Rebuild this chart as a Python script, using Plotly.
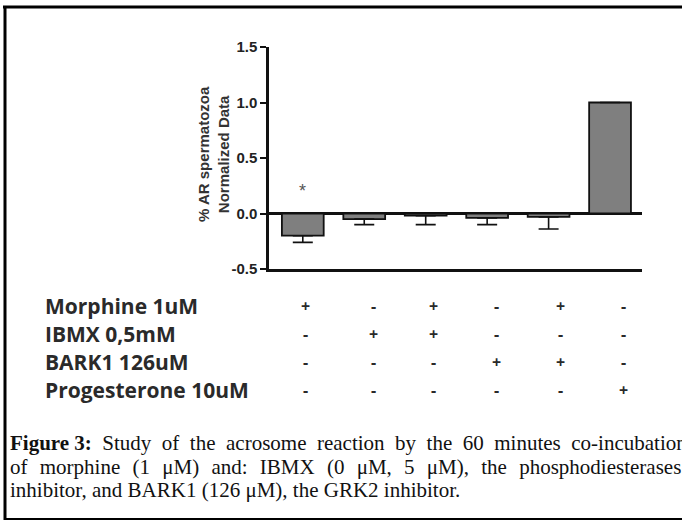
import plotly.graph_objects as go

# ---------------- data ----------------
conditions = ["C1", "C2", "C3", "C4", "C5", "C6"]
values = [-0.20, -0.05, -0.02, -0.04, -0.03, 1.00]
err_down = [0.06, 0.05, 0.08, 0.06, 0.11, 0.0]
err_up = [0, 0, 0, 0, 0, 0]

row_labels = ["Morphine 1uM", "IBMX 0,5mM", "BARK1 126uM", "Progesterone 10uM"]
row_signs = [
    ["+", "-", "+", "-", "+", "-"],
    ["-", "+", "+", "-", "-", "-"],
    ["-", "-", "-", "+", "+", "-"],
    ["-", "-", "-", "-", "-", "+"],
]
y_ticks = [-0.5, 0.0, 0.5, 1.0, 1.5]
y_tick_labels = ["-0.5", "0.0", "0.5", "1.0", "1.5"]
sig_marker = "*"
sig_index = 0
sig_y = 0.2

NB = "\u00a0"
caption_lines = [
    "<b>Figure" + NB + "3:</b>" + (" Study of the acrosome reaction by the 60 minutes co-incubation").replace(" ", NB * 2),
    "of morphine (1 μM) and: IBMX (0 μM, 5 μM), the phosphodiesterases".replace(" ", NB * 2 + "\u200a"),
    "inhibitor, and BARK1 (126 μM), the GRK2 inhibitor.",
]

# ---------------- layout geometry (pixels) ----------------
W, H = 682, 522
L, R, T, B = 269, 642, 47, 269  # plot area in pixels


def px(x):
    return (x - L) / (R - L)


def py(y):
    return (B - y) / (B - T)


fig = go.Figure()
fig.add_trace(go.Bar(
    x=list(range(len(conditions))),
    y=values,
    width=0.68,
    marker=dict(color="#7f7f7f", line=dict(color="#111111", width=1.8)),
    error_y=dict(type="data", symmetric=False, array=err_up, arrayminus=err_down,
                 color="#111111", thickness=1.6, width=10),
    showlegend=False,
    hoverinfo="skip",
))

annotations = []
# y-axis title (two lines)
annotations.append(dict(
    x=px(213), y=py(154), xref="paper", yref="paper",
    xanchor="center", yanchor="middle",
    text="% AR spermatozoa<br>Normalized Data", textangle=-90,
    showarrow=False, font=dict(family="Arial", size=15, color="#333333", weight="bold"),
    align="center",
))
# significance marker
annotations.append(dict(
    x=sig_index, y=sig_y, xref="x", yref="y", text=sig_marker, showarrow=False,
    font=dict(family="Arial", size=18, color="#555555"),
))

# table
col_px = [305, 373, 433, 496, 560, 623]
row_py = [306, 334, 362, 390]
for r, lab in enumerate(row_labels):
    annotations.append(dict(
        x=px(43), y=py(row_py[r]), xref="paper", yref="paper", text=lab,
        xanchor="left", yanchor="middle", showarrow=False,
        font=dict(family="Open Sans", size=21, color="#2a2a2a", weight="bold"),
    ))
    for c, s in enumerate(row_signs[r]):
        annotations.append(dict(
            x=px(col_px[c]), y=py(row_py[r]), xref="paper", yref="paper",
            text=s, xanchor="center", yanchor="middle", showarrow=False,
            font=dict(family="Open Sans", size=16, color="#2a2a2a", weight="bold"),
        ))

# caption
cap_py = [443, 467, 490]
for i, line in enumerate(caption_lines):
    annotations.append(dict(
        x=px(8), y=py(cap_py[i]), xref="paper", yref="paper", text=line,
        xanchor="left", yanchor="middle", showarrow=False,
        font=dict(family="Liberation Serif", size=21, color="#111111"),
    ))

shapes = [
    # top border
    dict(type="line", xref="paper", yref="paper", x0=px(3), x1=px(690),
         y0=py(7), y1=py(7), line=dict(color="black", width=3)),
    # left border
    dict(type="line", xref="paper", yref="paper", x0=px(5), x1=px(5),
         y0=py(6), y1=py(520), line=dict(color="black", width=3)),
    # bottom border
    dict(type="line", xref="paper", yref="paper", x0=px(4), x1=px(690),
         y0=py(519), y1=py(519), line=dict(color="black", width=2)),
]

fig.update_layout(
    width=W, height=H,
    margin=dict(l=L, r=W - R, t=T, b=H - B, pad=0),
    paper_bgcolor="white", plot_bgcolor="white",
    annotations=annotations, shapes=shapes,
    bargap=0.3,
)
fig.update_xaxes(
    range=[-0.55, 5.52], showticklabels=False, ticks="", showgrid=False,
    zeroline=False, showline=True, linecolor="#111111", linewidth=2.5,
)
fig.update_yaxes(
    range=[-0.5, 1.5], tickvals=y_ticks, ticktext=y_tick_labels, showgrid=False,
    zeroline=True, zerolinecolor="#111111", zerolinewidth=2.5,
    showline=True, linecolor="#111111", linewidth=2.5,
    ticks="outside", ticklen=6, tickwidth=2, tickcolor="#111111",
    tickfont=dict(family="Arial", size=15, color="#222222", weight="bold"),
)

fig.write_html("out.html", config={"displayModeBar": False},
               post_script="document.body.style.margin='0px';")
